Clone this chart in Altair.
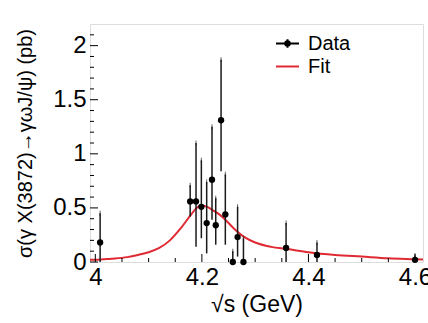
import altair as alt
import pandas as pd

# Measured cross sections
energy = [4.009, 4.178, 4.189, 4.199, 4.209, 4.219, 4.226, 4.236, 4.244,
          4.258, 4.267, 4.278, 4.358, 4.416, 4.600]
sigma = [0.18, 0.56, 0.56, 0.51, 0.36, 0.76, 0.34, 1.31, 0.44,
         0.00, 0.23, 0.00, 0.13, 0.065, 0.02]
sigma_hi = [0.45, 0.71, 1.10, 0.94, 0.74, 1.25, 0.59, 1.87, 0.81,
            0.10, 0.51, 0.22, 0.36, 0.18, 0.06]
sigma_lo = [0.00, 0.42, 0.14, 0.22, 0.08, 0.39, 0.16, 0.84, 0.16,
            0.00, 0.05, 0.00, 0.00, 0.00, 0.00]

# Fit curve
fit_energy = [3.99, 4.00, 4.03, 4.06, 4.08, 4.10, 4.12, 4.14, 4.16, 4.18,
              4.19, 4.20, 4.21, 4.22, 4.23, 4.24, 4.26, 4.28, 4.30, 4.33,
              4.36, 4.40, 4.45, 4.50, 4.55, 4.60, 4.615]
fit_sigma = [0.02, 0.02, 0.03, 0.045, 0.065, 0.09, 0.13, 0.20, 0.31, 0.44,
             0.50, 0.52, 0.51, 0.48, 0.45, 0.41, 0.31, 0.23, 0.18, 0.14,
             0.12, 0.09, 0.065, 0.05, 0.035, 0.025, 0.022]

# Legend entries
series = ["Data", "Fit"]

# Axis ticks
x_major = [4.0, 4.2, 4.4, 4.6]
x_minor = [4.05, 4.1, 4.15, 4.25, 4.3, 4.35, 4.45, 4.5, 4.55]
y_major = [0, 0.5, 1, 1.5, 2]
y_minor = [0.1, 0.2, 0.3, 0.4, 0.6, 0.7, 0.8, 0.9, 1.1, 1.2, 1.3, 1.4,
           1.6, 1.7, 1.8, 1.9, 2.1]

W, H = 333, 238
FONT = "Liberation Sans"
RED = "#e02a33"

xs = alt.Scale(domain=[3.99, 4.615], nice=False, zero=False)
ys = alt.Scale(domain=[0, 2.2], nice=False, zero=False)

x_axis = alt.Axis(
    title="√s (GeV)", values=x_major, format="~g", tickSize=0, domain=False, grid=False,
    labelFontSize=24, labelFont=FONT, labelColor="black", labelPadding=3,
    titleFontSize=23, titleFont=FONT, titleFontWeight="normal", titleColor="black",
    titlePadding=4)
y_axis = alt.Axis(
    title="σ(γ X(3872)→γωJ/ψ) (pb)", values=y_major, format="~g", tickSize=0,
    domain=False, grid=False, labelFontSize=24, labelFont=FONT, labelColor="black",
    labelPadding=4, titleFontSize=20, titleFont=FONT, titleFontWeight="normal",
    titleColor="black", titlePadding=17)


def X(field):
    return alt.X(field, scale=xs, axis=x_axis)


def Y(field):
    return alt.Y(field, scale=ys, axis=y_axis)


data = pd.DataFrame({"E": energy, "s": sigma, "hi": sigma_hi, "lo": sigma_lo})
fit = pd.DataFrame({"E": fit_energy, "s": fit_sigma})

fit_line = alt.Chart(fit).mark_line(color=RED, strokeWidth=2, interpolate="monotone", clip=True).encode(
    x=X("E:Q"), y=Y("s:Q"),
)

bars = alt.Chart(data).mark_rule(color="#1a1a1a", strokeWidth=1.5).encode(
    x=X("E:Q"), y=Y("lo:Q"), y2="hi:Q",
)

caps_hi = alt.Chart(data).mark_tick(color="#1a1a1a", size=5, thickness=1).encode(
    x=X("E:Q"), y=Y("hi:Q"),
)

points = alt.Chart(data).mark_circle(size=40, opacity=1, color="black").encode(
    x=X("E:Q"), y=Y("s:Q"),
)

# legend symbols: error-bar cross with a solid dot, and a plain line
data_symbol = ("M-1,0H1M0,-0.38V0.38"
               "M0.2,0A0.2,0.2,0,1,1,-0.2,0A0.2,0.2,0,1,1,0.2,0Z"
               "M0.09,0A0.09,0.09,0,1,1,-0.09,0A0.09,0.09,0,1,1,0.09,0Z")
fit_symbol = "M-1,0H1"

legend_opts = dict(
    title=None, orient="none", legendX=185, legendY=7,
    labelFontSize=20, labelFont=FONT, labelColor="black",
    labelOffset=8, symbolSize=529, rowPadding=-1, padding=0,
    symbolOpacity=1, symbolStrokeWidth=2)

legend_layer = alt.Chart(pd.DataFrame({"series": series})).mark_point(
    filled=False, opacity=0, strokeWidth=2
).encode(
    color=alt.Color("series:N", scale=alt.Scale(domain=series, range=["black", RED]),
                    legend=alt.Legend(**legend_opts)),
    shape=alt.Shape("series:N", scale=alt.Scale(domain=series, range=[data_symbol, fit_symbol]),
                    legend=alt.Legend(**legend_opts)),
)


# inward tick marks along the bottom and left edges
def xticks(vals, length):
    return alt.Chart(pd.DataFrame({"E": vals})).mark_rule(color="black", strokeWidth=1).encode(
        x=X("E:Q"), y=alt.value(H), y2=alt.value(H - length))


def yticks(vals, length):
    return alt.Chart(pd.DataFrame({"s": vals})).mark_rule(color="black", strokeWidth=1).encode(
        y=Y("s:Q"), x=alt.value(0), x2=alt.value(length))


chart = alt.layer(
    fit_line, xticks(x_major, 8), xticks(x_minor, 4), yticks(y_major, 8), yticks(y_minor, 4),
    bars, caps_hi, points, legend_layer,
).properties(
    width=W, height=H,
    autosize=alt.AutoSizeParams(type="none"),
    padding={"left": 90, "top": 24, "right": 5, "bottom": 61},
).configure_view(
    stroke="black", strokeWidth=1.5, fill="white",
).configure(background="white")

chart.save("out.html", embed_options={"renderer": "svg", "actions": False})
